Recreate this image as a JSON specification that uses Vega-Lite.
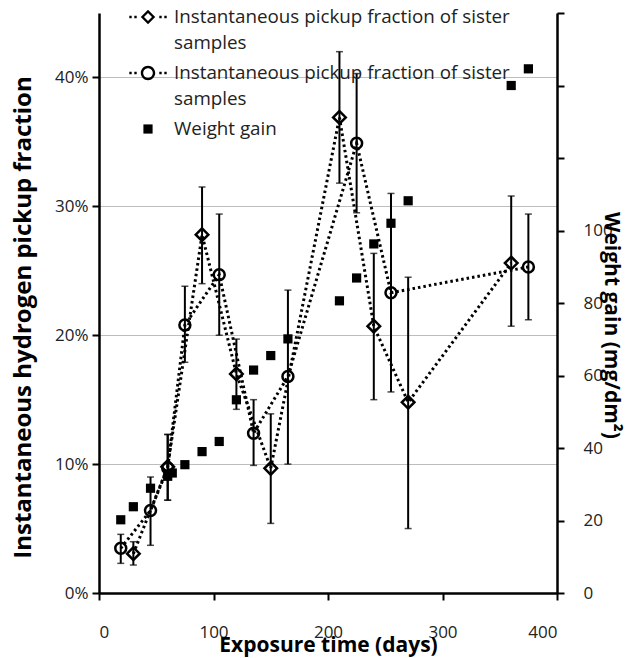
{
  "$schema": "https://vega.github.io/schema/vega-lite/v6.json",
  "autosize": "none",
  "width": 458,
  "height": 580,
  "padding": {"left": 99, "top": 13, "right": 78, "bottom": 65},
  "background": "white",
  "config": {
    "view": {"stroke": null},
    "font": "Open Sans",
    "style": {"guide-label": {"lineHeight": 26}},
    "axis": {
      "domainColor": "black", "domainWidth": 2.5, "tickColor": "black", "tickWidth": 2, "tickSize": 7,
      "labelFont": "Open Sans", "labelFontSize": 17, "labelColor": "#222",
      "titleFont": "Open Sans", "titleFontSize": 21, "titleFontWeight": "bold", "titleColor": "black"
    }
  },
  "datasets": {
    "pts": [
      {"day": 30, "series": "A", "pct": 0.0305, "lo": 0.0217, "hi": 0.0398},
      {"day": 60, "series": "A", "pct": 0.098, "lo": 0.072, "hi": 0.123},
      {"day": 90, "series": "A", "pct": 0.278, "lo": 0.240, "hi": 0.315},
      {"day": 120, "series": "A", "pct": 0.170, "lo": 0.1425, "hi": 0.197},
      {"day": 150, "series": "A", "pct": 0.0967, "lo": 0.054, "hi": 0.139},
      {"day": 210, "series": "A", "pct": 0.369, "lo": 0.318, "hi": 0.420},
      {"day": 240, "series": "A", "pct": 0.207, "lo": 0.150, "hi": 0.2635},
      {"day": 270, "series": "A", "pct": 0.148, "lo": 0.050, "hi": 0.245},
      {"day": 360, "series": "A", "pct": 0.256, "lo": 0.207, "hi": 0.308},
      {"day": 19, "series": "B", "pct": 0.0347, "lo": 0.023, "hi": 0.0455},
      {"day": 45, "series": "B", "pct": 0.064, "lo": 0.037, "hi": 0.090},
      {"day": 60, "series": "B", "pct": 0.097, "lo": 0.072, "hi": 0.123},
      {"day": 75, "series": "B", "pct": 0.208, "lo": 0.179, "hi": 0.238},
      {"day": 105, "series": "B", "pct": 0.247, "lo": 0.200, "hi": 0.294},
      {"day": 135, "series": "B", "pct": 0.124, "lo": 0.099, "hi": 0.150},
      {"day": 165, "series": "B", "pct": 0.168, "lo": 0.100, "hi": 0.235},
      {"day": 225, "series": "B", "pct": 0.349, "lo": 0.295, "hi": 0.403},
      {"day": 255, "series": "B", "pct": 0.233, "lo": 0.156, "hi": 0.310},
      {"day": 375, "series": "B", "pct": 0.253, "lo": 0.212, "hi": 0.294}
    ],
    "wg": [
      {"day": 19, "series": "W", "wg": 20.2},
      {"day": 30, "series": "W", "wg": 23.8},
      {"day": 45, "series": "W", "wg": 28.9},
      {"day": 60, "series": "W", "wg": 32.2},
      {"day": 64, "series": "W", "wg": 33.1},
      {"day": 75, "series": "W", "wg": 35.4},
      {"day": 90, "series": "W", "wg": 39.0},
      {"day": 105, "series": "W", "wg": 41.8},
      {"day": 120, "series": "W", "wg": 53.3},
      {"day": 135, "series": "W", "wg": 61.5},
      {"day": 150, "series": "W", "wg": 65.5},
      {"day": 165, "series": "W", "wg": 70.1},
      {"day": 210, "series": "W", "wg": 80.6},
      {"day": 225, "series": "W", "wg": 86.9},
      {"day": 240, "series": "W", "wg": 96.3},
      {"day": 255, "series": "W", "wg": 102.0},
      {"day": 270, "series": "W", "wg": 108.2},
      {"day": 360, "series": "W", "wg": 140.0},
      {"day": 375, "series": "W", "wg": 144.6}
    ]
  },
  "layer": [
    {
      "data": {"name": "pts"},
      "encoding": {
        "x": {
          "field": "day", "type": "quantitative",
          "scale": {"domain": [0, 400], "nice": false, "zero": false},
          "axis": {"values": [0, 100, 200, 300, 400], "grid": false, "labelPadding": 24, "title": "Exposure time (days)", "titlePadding": -6}
        }
      },
      "layer": [
        {
          "mark": {"type": "rule", "color": "black", "strokeWidth": 2},
          "encoding": {
            "y": {
              "field": "lo", "type": "quantitative",
              "scale": {"domain": [0, 0.45], "nice": false, "zero": true},
              "axis": {
                "orient": "left", "values": [0, 0.1, 0.2, 0.3, 0.4], "format": ".0%",
                "grid": true, "gridColor": "#bdbdbd", "gridWidth": 1,
                "labelPadding": 4, "titleFontSize": 24,
                "title": "Instantaneous hydrogen pickup fraction", "titlePadding": 19, "titleY": 304
              }
            },
            "y2": {"field": "hi"}
          }
        },
        {
          "mark": {"type": "tick", "orient": "horizontal", "color": "black", "size": 7, "thickness": 1.5},
          "encoding": {"y": {"field": "lo", "type": "quantitative"}}
        },
        {
          "mark": {"type": "tick", "orient": "horizontal", "color": "black", "size": 7, "thickness": 1.5},
          "encoding": {"y": {"field": "hi", "type": "quantitative"}}
        },
        {
          "mark": {"type": "line", "color": "black", "strokeWidth": 3, "strokeDash": [2.5, 3]},
          "encoding": {
            "y": {"field": "pct", "type": "quantitative"},
            "detail": {"field": "series"},
            "order": {"field": "day"}
          }
        },
        {
          "transform": [{"filter": "datum.series === 'A'"}],
          "mark": {"type": "point", "shape": "M0,-1.15L1.15,0L0,1.15L-1.15,0Z", "filled": false, "stroke": "black", "strokeWidth": 2.5, "fill": "white", "fillOpacity": 0, "opacity": 1, "size": 120},
          "encoding": {"y": {"field": "pct", "type": "quantitative"}}
        },
        {
          "transform": [{"filter": "datum.series === 'B'"}],
          "mark": {"type": "point", "shape": "circle", "filled": false, "stroke": "black", "strokeWidth": 2.5, "fill": "white", "fillOpacity": 0, "opacity": 1, "size": 120},
          "encoding": {"y": {"field": "pct", "type": "quantitative"}}
        }
      ]
    },
    {
      "data": {"name": "wg"},
      "mark": {"type": "point", "filled": true, "color": "black", "opacity": 1, "size": 1600, "strokeWidth": 0},
      "encoding": {
        "x": {"field": "day", "type": "quantitative"},
        "y": {
          "field": "wg", "type": "quantitative",
          "scale": {"domain": [0, 160], "nice": false},
          "axis": {
            "orient": "right", "values": [0, 20, 40, 60, 80, 100, 120, 140, 160],
            "labelExpr": "datum.value <= 100 ? datum.label : ''",
            "grid": false, "labelPadding": 19,
            "title": "Weight gain (mg/dm²)", "titlePadding": -12, "titleY": 312
          }
        },
        "shape": {
          "field": "series", "type": "nominal",
          "scale": {
            "domain": ["A", "B", "W"],
            "range": [
              "M-0.935,-0.06h0.12v0.12h-0.12z M-0.685,-0.06h0.12v0.12h-0.12z M0.565,-0.06h0.12v0.12h-0.12z M0.815,-0.06h0.12v0.12h-0.12z M0,-0.36L0.36,0L0,0.36L-0.36,0z M0,-0.2L-0.2,0L0,0.2L0.2,0z",
              "M-0.935,-0.06h0.12v0.12h-0.12z M-0.685,-0.06h0.12v0.12h-0.12z M0.565,-0.06h0.12v0.12h-0.12z M0.815,-0.06h0.12v0.12h-0.12z M0.36,0C0.36,0.199,0.199,0.36,0,0.36C-0.199,0.36,-0.36,0.199,-0.36,0C-0.36,-0.199,-0.199,-0.36,0,-0.36C0.199,-0.36,0.36,-0.199,0.36,0z M0.24,0C0.24,-0.1325,0.1325,-0.24,0,-0.24C-0.1325,-0.24,-0.24,-0.1325,-0.24,0C-0.24,0.1325,-0.1325,0.24,0,0.24C0.1325,0.24,0.24,0.1325,0.24,0z",
              "M-0.23,-0.23h0.46v0.46h-0.46z"
            ]
          },
          "legend": {
            "orient": "none", "legendX": 29, "legendY": -16, "padding": 0, "title": null,
            "labelFont": "Open Sans", "labelFontSize": 18.8, "labelColor": "#222", "labelLimit": 0, "labelOffset": 6,
            "labelBaseline": "middle",
            "symbolSize": 1600, "rowPadding": 0,
            "symbolFillColor": "black", "symbolStrokeWidth": 0, "symbolOpacity": 1,
            "labelExpr": "datum.value === 'W' ? 'Weight gain' : ['Instantaneous pickup fraction of sister', 'samples']"
          }
        }
      }
    }
  ],
  "resolve": {"scale": {"y": "independent"}}
}
